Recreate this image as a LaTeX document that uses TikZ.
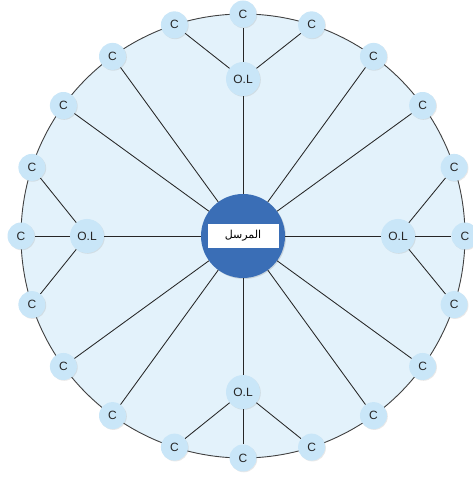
\documentclass[tikz,border=0pt]{standalone}
\usepackage{fontspec}
\setmainfont{Liberation Sans}
\newfontfamily\arabicfont[Script=Arabic]{DejaVu Sans}
\TeXXeTstate=1
\usetikzlibrary{shadows,calc}
\definecolor{ring}{HTML}{E3F2FB}
\definecolor{nodefill}{HTML}{C9E6F8}
\definecolor{hubblue}{HTML}{3A6EB6}
\begin{document}
\begin{tikzpicture}[x=1pt,y=1pt,
  cnode/.style={circle, fill=nodefill, minimum size=27pt, inner sep=0pt,
    font=\fontsize{12}{12}\selectfont, text=black!85,
    drop shadow={opacity=0.18, shadow xshift=0.8pt, shadow yshift=-0.8pt}},
  olnode/.style={cnode, minimum size=34pt},
  hubnode/.style={circle, fill=hubblue, minimum size=84pt, inner sep=0pt,
    drop shadow={opacity=0.25, shadow xshift=1pt, shadow yshift=-1pt}},
  labelbox/.style={fill=white, minimum width=71pt, minimum height=24pt, inner sep=0pt,
    font=\arabicfont\fontsize{11}{11}\selectfont},
  link/.style={draw=black!85, line width=0.85pt}]
\useasboundingbox (0,0) rectangle (472,479);
\coordinate (o) at (243,243);
\draw[fill=ring, draw=black!75, line width=0.9pt] (o) circle (222pt);
\foreach \i in {0,...,19}{
  \pgfmathsetmacro{\ang}{90+18*\i}
  \node[cnode] (c\i) at ($(o)+(\ang:222pt)$) {C};
}
\node[olnode] (olt) at ($(o)+(90:157pt)$) {O.L};
\node[olnode] (oll) at ($(o)+(180:156pt)$) {O.L};
\node[olnode] (olb) at ($(o)+(270:156pt)$) {O.L};
\node[olnode] (olr) at ($(o)+(0:155pt)$) {O.L};
\node[hubnode] (hub) at (o) {};
\node[labelbox] (lbl) at (o) {\beginR المرسل\endR};
\foreach \n in {c2,c3,c7,c8,c12,c13,c17,c18,olt,oll,olb,olr}{
  \draw[link] (hub) -- (\n);
}
\foreach \n in {c19,c0,c1}{\draw[link] (olt) -- (\n);}
\foreach \n in {c4,c5,c6}{\draw[link] (oll) -- (\n);}
\foreach \n in {c9,c10,c11}{\draw[link] (olb) -- (\n);}
\foreach \n in {c14,c15,c16}{\draw[link] (olr) -- (\n);}
\end{tikzpicture}
\end{document}
